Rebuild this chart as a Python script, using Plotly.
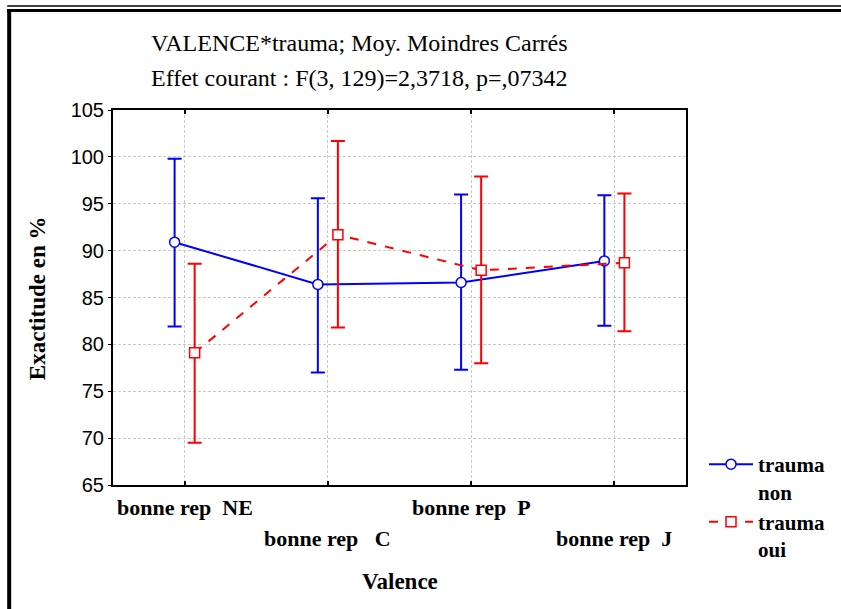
import plotly.graph_objects as go

categories = ["bonne rep  NE", "bonne rep   C", "bonne rep  P", "bonne rep  J"]
non_mean = [90.9, 86.4, 86.6, 88.9]
non_upper = [99.8, 95.6, 96.0, 95.9]
non_lower = [81.9, 77.0, 77.3, 82.0]
oui_mean = [79.1, 91.7, 87.9, 88.7]
oui_upper = [88.6, 101.7, 97.9, 96.1]
oui_lower = [69.5, 81.8, 78.0, 81.4]
series_names = ["<b>trauma<br>non</b>", "<b>trauma<br>oui</b>"]
yticks = [65, 70, 75, 80, 85, 90, 95, 100, 105]

W, H = 841, 609
L, R, T, B = 113, 687, 110, 485

def px(x):
    return (x - L) / (R - L)

def py(y):
    return (B - y) / (B - T)

idx = list(range(len(categories)))
off = 0.07

fig = go.Figure()
fig.add_trace(go.Scatter(
    x=[i - off for i in idx], y=non_mean, name=series_names[0],
    mode="lines+markers",
    line=dict(color="#0000ff", width=2),
    marker=dict(symbol="circle", size=10, color="white", line=dict(color="#0000ff", width=1.5)),
    error_y=dict(type="data", symmetric=False,
                 array=[u - m for u, m in zip(non_upper, non_mean)],
                 arrayminus=[m - l for l, m in zip(non_lower, non_mean)],
                 color="#0000ff", thickness=2, width=7),
))
fig.add_trace(go.Scatter(
    x=[i + off for i in idx], y=oui_mean, name=series_names[1],
    mode="lines+markers",
    line=dict(color="#ff0000", width=2, dash="dash"),
    marker=dict(symbol="square", size=10, color="white", line=dict(color="#ff0000", width=1.5)),
    error_y=dict(type="data", symmetric=False,
                 array=[u - m for u, m in zip(oui_upper, oui_mean)],
                 arrayminus=[m - l for l, m in zip(oui_lower, oui_mean)],
                 color="#ff0000", thickness=2, width=7),
))

serif = "Liberation Serif, Times New Roman, serif"
sans = "Liberation Sans, Arial, sans-serif"

def nbsp(s):
    out = []
    prev_space = False
    for ch in s:
        if ch == " " and prev_space:
            out.append("&nbsp;")
        else:
            out.append(ch)
        prev_space = ch == " "
    return "".join(out)

annotations = []
for i, c in enumerate(categories):
    ypos = 508 if i % 2 == 0 else 538
    annotations.append(dict(x=i, xref="x", y=py(ypos), yref="paper",
                            text="<b>%s</b>" % nbsp(c),
                            showarrow=False, font=dict(family=serif, size=22, color="black"),
                            xanchor="center", yanchor="middle"))
annotations.append(dict(x=px(400), xref="paper", y=py(581), yref="paper", text="<b>Valence</b>",
                        showarrow=False, font=dict(family=serif, size=23, color="black"),
                        xanchor="center", yanchor="middle"))
annotations.append(dict(x=px(37), xref="paper", y=py(298), yref="paper", text="<b>Exactitude en %</b>",
                        showarrow=False, textangle=-90, font=dict(family=serif, size=23, color="black"),
                        xanchor="center", yanchor="middle"))
annotations.append(dict(x=px(360), xref="paper", y=py(43), yref="paper",
                        text="VALENCE*trauma; Moy. Moindres Carrés",
                        showarrow=False, font=dict(family=serif, size=24, color="black"),
                        xanchor="center", yanchor="middle"))
annotations.append(dict(x=px(360), xref="paper", y=py(78), yref="paper",
                        text="Effet courant : F(3, 129)=2,3718, p=,07342",
                        showarrow=False, font=dict(family=serif, size=24, color="black"),
                        xanchor="center", yanchor="middle"))

shapes = [
    dict(type="line", xref="paper", yref="paper", x0=px(7), x1=px(W + 5), y0=py(6), y1=py(6),
         line=dict(color="black", width=1.5)),
    dict(type="line", xref="paper", yref="paper", x0=px(7), x1=px(W + 5), y0=py(10.5), y1=py(10.5),
         line=dict(color="black", width=3)),
    dict(type="line", xref="paper", yref="paper", x0=px(9), x1=px(9), y0=py(9), y1=py(H + 5),
         line=dict(color="black", width=4)),
]

fig.update_layout(
    width=W, height=H,
    margin=dict(l=L, r=W - R, t=T, b=H - B),
    paper_bgcolor="white", plot_bgcolor="white",
    showlegend=True,
    legend=dict(x=px(704), y=py(444), xanchor="left", yanchor="top",
                font=dict(family=serif, size=21, color="black"),
                bgcolor="rgba(0,0,0,0)", tracegroupgap=4, itemwidth=44,
                traceorder="normal", valign="top"),
    xaxis=dict(range=[-0.5, 3.5], tickvals=idx, ticktext=[""] * len(idx), showticklabels=False,
               showgrid=True, gridcolor="#c8c8c8", griddash="3px,2px", gridwidth=1,
               showline=True, linecolor="black", linewidth=2, mirror="ticks",
               ticks="inside", ticklen=4, tickcolor="black", tickwidth=2, zeroline=False),
    yaxis=dict(range=[65, 105], tickvals=yticks, ticktext=[str(v) for v in yticks],
               showgrid=True, gridcolor="#c8c8c8", griddash="3px,2px", gridwidth=1,
               showline=True, linecolor="black", linewidth=2, mirror=True,
               ticks="outside", ticklen=3, tickcolor="black", tickwidth=1,
               tickfont=dict(family=sans, size=20, color="black"), zeroline=False),
    yaxis2=dict(range=[65, 105], tickvals=yticks, overlaying="y", side="right",
                showticklabels=False, showgrid=False, ticks="inside", ticklen=4,
                tickcolor="black", tickwidth=2, showline=False, zeroline=False),
    annotations=annotations,
    shapes=shapes,
)

fig.write_html("out.html")
